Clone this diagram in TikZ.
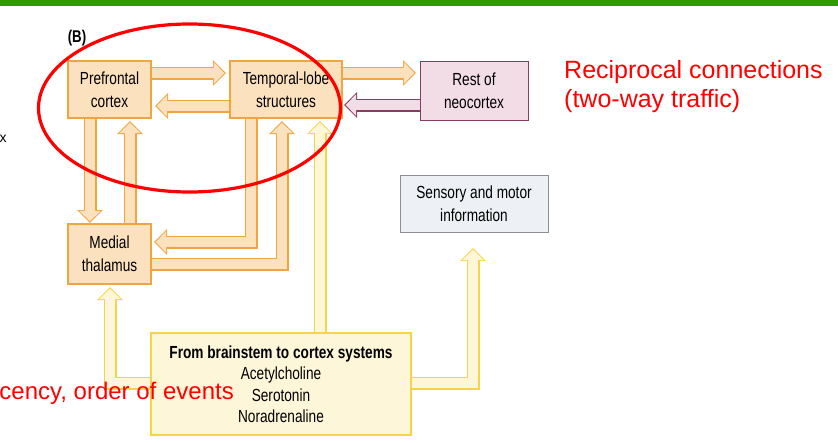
\documentclass[tikz,border=0pt]{standalone}
\usepackage{fontspec}
\setmainfont{Liberation Sans}
\newfontfamily\cond[FakeStretch=0.78]{Liberation Sans}
\usetikzlibrary{arrows.meta,calc}
\definecolor{obord}{HTML}{F0A540}
\definecolor{ofill}{HTML}{FBE1BD}
\definecolor{ybord}{HTML}{F5D547}
\definecolor{yfill}{HTML}{FEF6D9}
\definecolor{pbord}{HTML}{8B3A62}
\definecolor{pfill}{HTML}{F2DDE6}
\definecolor{gbord}{HTML}{8C9096}
\definecolor{gfill}{HTML}{EDF0F4}
\definecolor{topgreen}{HTML}{339900}
\tikzset{
 box/.style={draw=obord,fill=ofill,line width=1.2pt,font=\cond\fontsize{17.5}{23}\selectfont,align=center,inner sep=0pt},
 outerA/.style={line width=13pt,line join=miter,-{Triangle[length=13pt,width=25pt]}},
 innerA/.style={line width=10.6pt,line join=miter,shorten >=1.6pt,-{Triangle[length=10.6pt,width=21pt]}},
}
\newcommand{\barrow}[3]{%
 \draw[outerA,draw=#1] #3;
 \draw[innerA,draw=#2] #3;}
\begin{document}
\begin{tikzpicture}[x=1pt,y=-1pt]
\useasboundingbox (0,0) rectangle (838,442);
\fill[topgreen] (0,0) rectangle (838,6);
\coordinate (pfc) at (109.5,89.5);
\coordinate (tlc) at (286,89.5);
\coordinate (rnc) at (474,90.5);
\coordinate (smc) at (474,203.5);
\coordinate (mtc) at (109.5,254);
\coordinate (bsc) at (281,384);
% arrows (drawn first)
\barrow{obord}{ofill}{(150,73) -- (226,73)}
\barrow{obord}{ofill}{(231,106) -- (155,106)}
\barrow{obord}{ofill}{(341,73) -- (416,73)}
\barrow{pbord}{pfill}{(421,105) -- (344,105)}
\barrow{obord}{ofill}{(90,117) -- (90,223)}
\barrow{obord}{ofill}{(130,225) -- (130,121)}
\barrow{obord}{ofill}{(251,117) -- (251,242) -- (154,242)}
\barrow{obord}{ofill}{(150,264) -- (282,264) -- (282,121)}
\barrow{ybord}{yfill}{(320,334) -- (320,121)}
\barrow{ybord}{yfill}{(152,383) -- (110,383) -- (110,287)}
\barrow{ybord}{yfill}{(410,383) -- (473,383) -- (473,248)}
% boxes
\node[box,minimum width=83pt,minimum height=57pt] (pf) at (pfc) {Prefrontal\\cortex};
\node[box,minimum width=112pt,minimum height=57pt] (tl) at (tlc) {Temporal-lobe\\structures};
\node[box,draw=pbord,fill=pfill,minimum width=108pt,minimum height=59pt,line width=0.9pt] (rn) at (rnc) {Rest of\\neocortex};
\node[box,draw=gbord,fill=gfill,minimum width=148pt,minimum height=57pt,line width=0.9pt] (sm) at (smc) {Sensory and motor\\information};
\node[box,minimum width=83pt,minimum height=60pt] (mt) at (mtc) {Medial\\thalamus};
\node[box,draw=ybord,fill=yfill,minimum width=260pt,minimum height=102pt,font=\cond\fontsize{17.5}{21.5}\selectfont] (bs) at (bsc) {\textbf{From brainstem to cortex systems}\\Acetylcholine\\Serotonin\\Noradrenaline};
% labels
\node[font=\cond\bfseries\fontsize{17}{18}\selectfont,inner sep=0pt] (lb) at (77,38) {(B)};
\node[font=\fontsize{14}{15}\selectfont,inner sep=0pt] (lx) at (3,139) {x};
\draw[red,line width=3.2pt] (189.5,108) ellipse (151pt and 84pt);
\node[red,font=\fontsize{25}{29}\selectfont,align=left,anchor=north west,inner sep=0pt] (rc) at (564,60) {Reciprocal connections\\(two-way traffic)};
\node[red,font=\fontsize{24}{25}\selectfont,anchor=east,inner sep=0pt] (oe) at (234,393) {cency, order of events};
\end{tikzpicture}
\end{document}
